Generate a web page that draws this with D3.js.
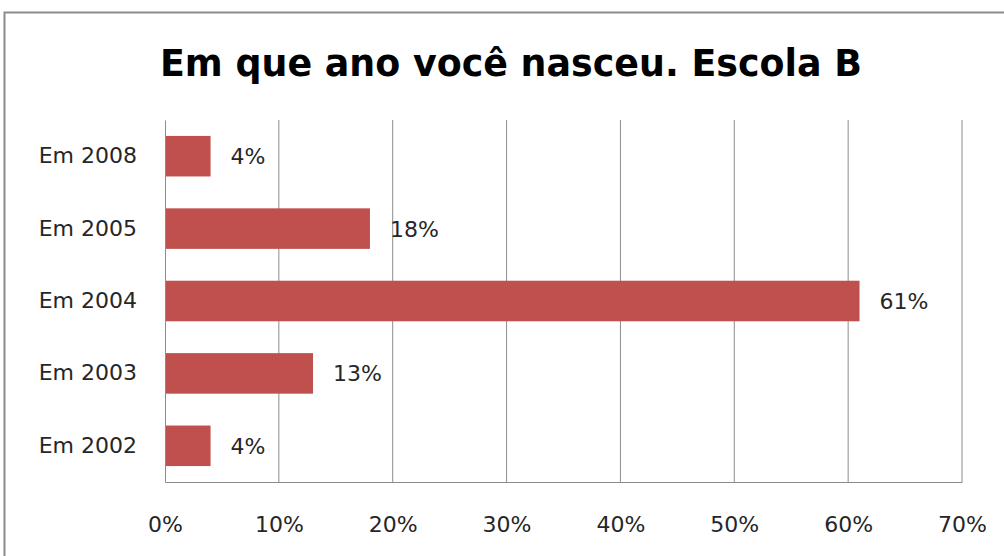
<!DOCTYPE html>
<html>
<head>
<meta charset="utf-8">
<script src="https://cdn.jsdelivr.net/npm/d3@7"></script>
<style>
  body { margin: 0; background: #fff; }
  text { font-family: "DejaVu Sans", sans-serif; }
</style>
</head>
<body>
<script>
// data
const categories = ['Em 2008', 'Em 2005', 'Em 2004', 'Em 2003', 'Em 2002']
const values = [4, 18, 61, 13, 4]
const tickValues = [0, 10, 20, 30, 40, 50, 60, 70]

const width = 1004
const height = 556
const margin = { top: 120, right: 42, bottom: 74, left: 165 }

const svg = d3.select('body')
    .append('svg')
    .attr('width', width)
    .attr('height', height)

// outer frame
svg.append('rect')
    .attr('x', 4.5)
    .attr('y', 12.5)
    .attr('width', width + 10)
    .attr('height', height + 10)
    .attr('fill', '#fff')
    .attr('stroke', '#8c8c8c')
    .attr('stroke-width', 2)

// title
svg.append('text')
    .attr('x', 511)
    .attr('y', 76)
    .attr('text-anchor', 'middle')
    .attr('font-size', 37)
    .attr('font-weight', 'bold')
    .attr('fill', '#000')
    .attr('textLength', 702)
    .attr('lengthAdjust', 'spacingAndGlyphs')
    .text('Em que ano você nasceu. Escola B')

const x = d3.scaleLinear()
    .domain([0, 70])
    .range([margin.left, width - margin.right])

const y = d3.scaleBand()
    .domain(categories)
    .range([margin.top, height - margin.bottom])
    .paddingInner(0.44)
    .paddingOuter(0.22)

// gridlines
svg.append('g')
    .selectAll('line')
    .data(tickValues.slice(1))
    .enter()
    .append('line')
    .attr('x1', d => x(d))
    .attr('x2', d => x(d))
    .attr('y1', margin.top)
    .attr('y2', height - margin.bottom)
    .attr('stroke', '#8c8c8c')
    .attr('stroke-width', 1)

// bars
svg.append('g')
    .selectAll('rect')
    .data(values)
    .enter()
    .append('rect')
    .attr('x', x(0))
    .attr('y', (d, i) => y(categories[i]))
    .attr('width', d => x(d) - x(0))
    .attr('height', y.bandwidth())
    .attr('fill', '#c0504d')

// value labels
svg.append('g')
    .selectAll('text')
    .data(values)
    .enter()
    .append('text')
    .attr('x', d => x(d) + 20)
    .attr('y', (d, i) => y(categories[i]) + y.bandwidth() / 2)
    .attr('dy', '0.36em')
    .attr('font-size', 22)
    .attr('fill', '#262626')
    .text(d => d + '%')

// x axis
const xAxis = svg.append('g')
    .attr('transform', `translate(0,${height - margin.bottom})`)
    .call(d3.axisBottom(x).tickValues(tickValues).tickSize(0).tickPadding(34).tickFormat(d => d + '%'))
xAxis.select('.domain').attr('stroke', '#8c8c8c')
xAxis.selectAll('text').attr('font-size', 22).attr('fill', '#262626')

// y axis
const yAxis = svg.append('g')
    .attr('transform', `translate(${margin.left},0)`)
    .call(d3.axisLeft(y).tickSize(0).tickPadding(28))
yAxis.select('.domain').attr('stroke', '#8c8c8c')
yAxis.selectAll('text').attr('font-size', 22).attr('fill', '#262626')
</script>
</body>
</html>
